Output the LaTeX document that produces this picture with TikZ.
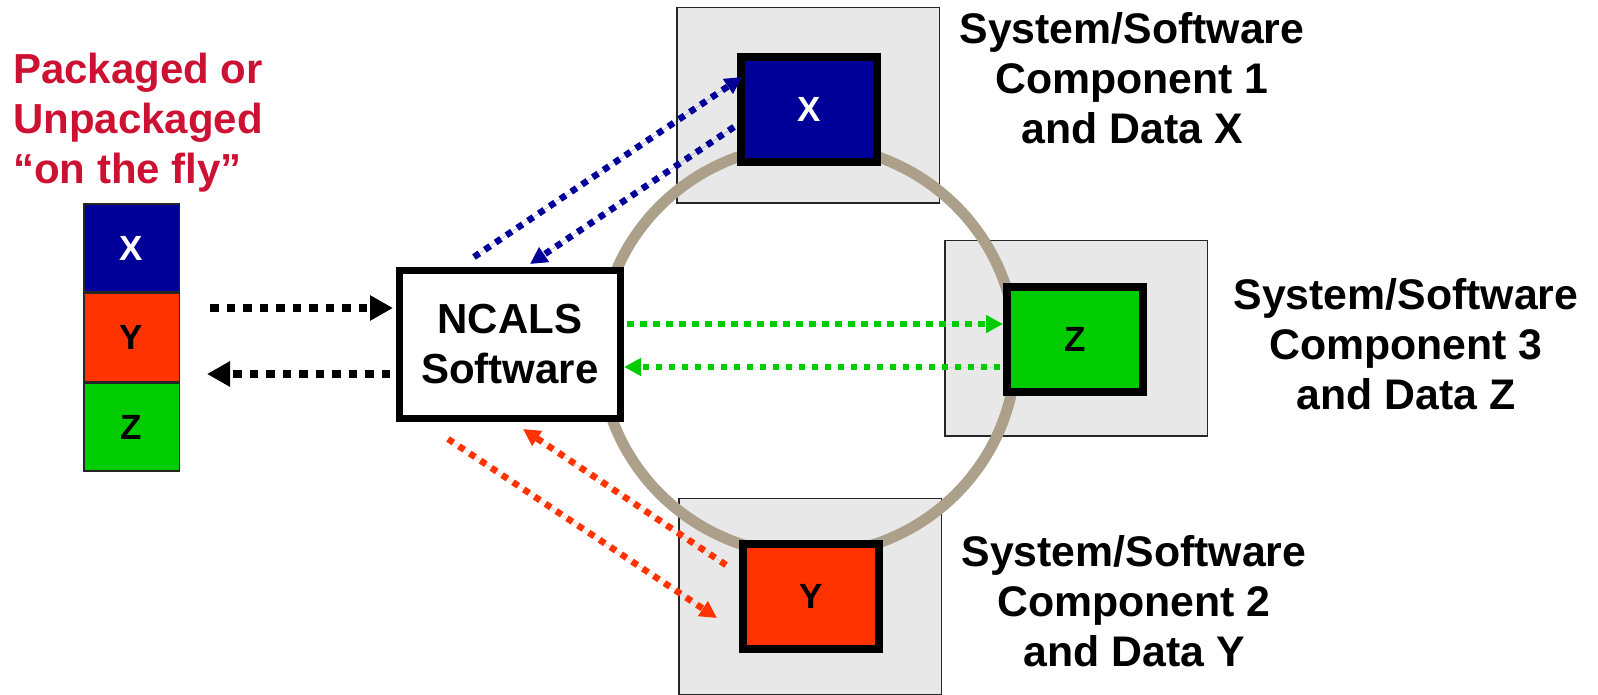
\documentclass[tikz,border=0pt]{standalone}
\usepackage{fontspec}
\setmainfont{Liberation Sans}
\usetikzlibrary{arrows.meta}

\definecolor{panel}{RGB}{232,232,232}
\definecolor{ringtan}{RGB}{173,160,138}
\definecolor{xblue}{RGB}{0,0,153}
\definecolor{yred}{RGB}{255,51,0}
\definecolor{zgreen}{RGB}{0,204,0}
\definecolor{headred}{RGB}{205,17,50}

\tikzset{
  panelbox/.style={draw=black!85, line width=1.5pt, fill=panel,
    minimum width=262.5pt, minimum height=195.5pt, inner sep=0pt},
  compbox/.style={draw=black, line width=8pt, minimum width=136pt,
    minimum height=105pt, inner sep=0pt, font=\bfseries\fontsize{35}{40}\selectfont},
  cell/.style={draw=black!85, line width=1.5pt, minimum width=95.5pt,
    minimum height=88pt, inner sep=0pt, font=\bfseries\fontsize{35}{40}\selectfont},
  mainbox/.style={draw=black, line width=7pt, fill=white, minimum width=221pt,
    minimum height=148pt, inner sep=0pt, align=center},
  caption/.style={align=center, inner sep=0pt,
    font=\bfseries\fontsize{42.8}{50}\selectfont},
  flowblack/.style={draw=black, line width=8.5pt, dash pattern=on 8.5pt off 8pt,
    -{Triangle[length=23pt,width=24pt]}},
  flowcol/.style={draw=#1, line width=6.5pt, dash pattern=on 6.5pt off 6.5pt,
    -{Triangle[length=17pt,width=17pt]}, fill=#1},
}

\begin{document}
\begin{tikzpicture}[x=1pt, y=-1pt, font=\bfseries\fontsize{42}{50}\selectfont]
\useasboundingbox (0,0) rectangle (1598,695);

% grey panels behind the components
\node[panelbox] (px) at (808,105.5) {};
\node[panelbox] (pz) at (1076,338) {};
\node[panelbox, minimum height=196pt] (py) at (810,596.5) {};

% the ring linking the components
\draw[ringtan, line width=11pt] (808,350) ellipse [x radius=208pt, y radius=205pt];

% component boxes
\node[compbox, fill=xblue, text=white] (xbox) at (809,109.5) {X};
\node[compbox, fill=zgreen] (zbox) at (1075,339) {Z};
\node[compbox, fill=yred] (ybox) at (811,596) {Y};

% packaged stack
\node[cell, fill=xblue, text=white] (sx) at (131.5,248) {X};
\node[cell, fill=yred, anchor=north] (sy) at (sx.south) {Y};
\node[cell, fill=zgreen, anchor=north] (sz) at (sy.south) {Z};

% central software box
\node[mainbox] (ncals) at (510,344.5) {NCALS\\Software};

% labels
\node[inner sep=0pt, text=headred, align=left, anchor=north west] (head) at (13,53)
  {Packaged or\\Unpackaged\\“on the fly”};
\node[caption] (cap1) at (1132,78) {System/Software\\Component 1\\and Data X};
\node[caption] (cap3) at (1406,344) {System/Software\\Component 3\\and Data Z};
\node[caption] (cap2) at (1134,601) {System/Software\\Component 2\\and Data Y};

% free ends of the flows
\coordinate (bin)  at (210,308);
\coordinate (bout) at (207,374);
\coordinate (g1) at (0,324);
\coordinate (g2) at (0,367);
\coordinate (b1s) at (474,257);
\coordinate (b1e) at (742,77);
\coordinate (b2s) at (734,127);
\coordinate (b2e) at (530,264);
\coordinate (r1s) at (726,565);
\coordinate (r1e) at (523,429);
\coordinate (r2s) at (448,439);
\coordinate (r2e) at (717,618);

% flows between the stack and the software
\draw[flowblack, shorten >=3pt] (bin) -- (ncals.west |- bin);
\draw[flowblack, shorten <=6pt] (ncals.west |- bout) -- (bout);

% flows to and from component X
\draw[flowcol=xblue] (b1s) -- (b1e);
\draw[flowcol=xblue] (b2s) -- (b2e);

% flows to and from component Z
\draw[flowcol=zgreen, shorten <=3pt] (ncals.east |- g1) -- (zbox.west |- g1);
\draw[flowcol=zgreen, shorten <=3pt] (zbox.west |- g2) -- (ncals.east |- g2);

% flows to and from component Y
\draw[flowcol=yred] (r1s) -- (r1e);
\draw[flowcol=yred] (r2s) -- (r2e);
\end{tikzpicture}
\end{document}
